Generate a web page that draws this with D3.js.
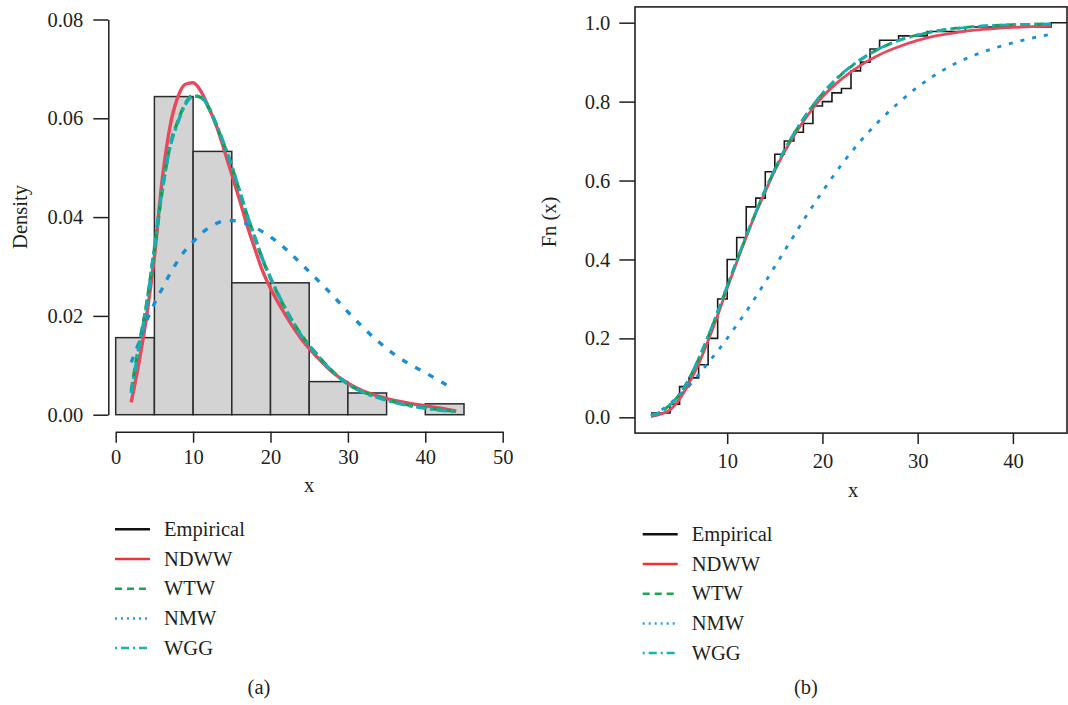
<!DOCTYPE html>
<html>
<head>
<meta charset="UTF-8">
<title>Fitted densities and CDFs</title>
<script src="https://cdnjs.cloudflare.com/ajax/libs/d3/7.8.5/d3.min.js"></script>
<style>
body{margin:0;background:#fff;}
text{font-family:"Liberation Serif","DejaVu Serif",serif;font-size:20.5px;fill:#231f20;}
.axis path,.axis line{stroke:#231f20;stroke-width:1.5;}
</style>
</head>
<body>
<div id="chart"></div>
<script>
// observed data (integer values and how often they occur), n = 90
var obsValues=[2,4,5,6,7,8,9,10,11,12,13,14,15,16,17,18,19,20,21,22,23,24,25,26,28,31,35,44];
var obsCounts=[1,2,4,2,3,6,9,9,5,7,2,6,4,3,2,2,4,1,2,1,4,2,3,2,1,1,1,1];

// histogram
var binEdges=[0,5,10,15,20,25,30,35,40,45];
var binDensity=[0.0156,0.0644,0.0533,0.0267,0.0267,0.0067,0.0044,0,0.0022];

// fitted curves
var xGrid=[2,3,4,5,6,7,8,9,10,11,12,13,14,15,16,17,18,19,20,22,24,26,28,30,32,34,36,38,40,42,44];
var xGridNMW=[2,3,4,5,6,7,8,9,10,11,12,13,14,15,16,17,18,19,20,22,24,26,28,30,32,34,36,38,40,42,43];
var pdfNDWW=[0.0025,0.0105,0.0200,0.0320,0.0475,0.0582,0.0642,0.0669,0.0672,0.0655,0.0622,0.0585,0.0537,0.0486,0.0435,0.0382,0.0335,0.0290,0.0256,0.0200,0.0153,0.0117,0.0086,0.0064,0.0048,0.0037,0.0029,0.0023,0.0018,0.0013,0.0007];
var pdfWTW=[0.0048,0.0140,0.0225,0.0335,0.0452,0.0543,0.0593,0.0630,0.0646,0.0642,0.0622,0.0586,0.0546,0.0502,0.0452,0.0402,0.0358,0.0313,0.0276,0.0212,0.0161,0.0122,0.0088,0.0062,0.0046,0.0035,0.0026,0.0019,0.0014,0.0010,0.0007];
var pdfNMW=[0.0106,0.0146,0.0190,0.0225,0.0255,0.0285,0.0311,0.0333,0.0350,0.0366,0.0378,0.0387,0.0392,0.0393,0.0391,0.0386,0.0379,0.0370,0.0360,0.0335,0.0305,0.0274,0.0242,0.0208,0.0176,0.0147,0.0122,0.0102,0.0085,0.0067,0.0058];
var pdfWGG=[0.0044,0.0136,0.0222,0.0338,0.0455,0.0540,0.0590,0.0628,0.0645,0.0643,0.0623,0.0588,0.0548,0.0503,0.0453,0.0403,0.0357,0.0314,0.0277,0.0213,0.0160,0.0121,0.0087,0.0062,0.0045,0.0034,0.0025,0.0018,0.0013,0.0009,0.0006];

var cdfNDWW=[0.002,0.008,0.019,0.046,0.086,0.135,0.194,0.258,0.327,0.393,0.457,0.517,0.572,0.625,0.672,0.713,0.750,0.783,0.812,0.857,0.892,0.919,0.939,0.955,0.967,0.975,0.981,0.985,0.988,0.990,0.992];
var cdfWTW=[0.004,0.014,0.032,0.058,0.098,0.148,0.205,0.267,0.332,0.396,0.459,0.519,0.576,0.628,0.676,0.718,0.756,0.790,0.820,0.869,0.906,0.934,0.955,0.969,0.979,0.986,0.990,0.993,0.995,0.996,0.997];
var cdfNMW=[0.005,0.017,0.035,0.056,0.080,0.108,0.138,0.168,0.200,0.234,0.268,0.305,0.343,0.382,0.421,0.460,0.499,0.536,0.572,0.640,0.700,0.752,0.797,0.837,0.870,0.897,0.918,0.935,0.949,0.961,0.971];
var cdfWGG=[0.004,0.013,0.031,0.058,0.098,0.149,0.206,0.268,0.333,0.397,0.460,0.520,0.577,0.629,0.677,0.719,0.757,0.791,0.821,0.870,0.907,0.935,0.955,0.969,0.979,0.985,0.990,0.993,0.995,0.996,0.997];

var xTicksL=[0,10,20,30,40,50];
var yTicksL=[0,0.02,0.04,0.06,0.08];
var xTicksR=[10,20,30,40];
var yTicksR=[0,0.2,0.4,0.6,0.8,1.0];
var legendNames=["Empirical","NDWW","WTW","NMW","WGG"];

var width=1068, height=705;
var svg=d3.select("#chart").append("svg").attr("width",width).attr("height",height);

// line looks
var look={
 NDWW:{color:"#e9485c",dash:null},
 WTW:{color:"#1c9e48",dash:"9,5"},
 NMW:{color:"#1a8fd6",dash:"6,9"},
 WGG:{color:"#18adb2",dash:"10,4,3,4"}
};

function zip(xs,ys){return xs.map(function(x,i){return [x,ys[i]];});}

// ---------- left panel: histogram + densities ----------
var xL=d3.scaleLinear().domain([0,50]).range([115.7,502.7]);
var yL=d3.scaleLinear().domain([0,0.08]).range([414.7,19.5]);

svg.append("g").selectAll("rect").data(binDensity).enter().append("rect")
  .attr("x",function(d,i){return xL(binEdges[i]);})
  .attr("width",function(d,i){return xL(binEdges[i+1])-xL(binEdges[i]);})
  .attr("y",function(d){return yL(d);})
  .attr("height",function(d){return yL(0)-yL(d);})
  .attr("fill","#d3d3d3").attr("stroke","#2b2b2b").attr("stroke-width",1.5);

var lineL=d3.line().x(function(d){return xL(d[0]);}).y(function(d){return yL(d[1]);}).curve(d3.curveMonotoneX);
var densities=[["NDWW",zip(xGrid,pdfNDWW)],["WTW",zip(xGrid,pdfWTW)],["NMW",zip(xGridNMW,pdfNMW)],["WGG",zip(xGrid,pdfWGG)]];
densities.forEach(function(s){
  svg.append("path").attr("d",lineL(s[1])).attr("fill","none")
    .attr("stroke",look[s[0]].color).attr("stroke-width",3.4)
    .attr("stroke-dasharray",look[s[0]].dash);
});

svg.append("g").attr("class","axis").attr("transform","translate(0,431.7)")
  .call(d3.axisBottom(xL).tickValues(xTicksL).tickSize(11).tickPadding(7).tickSizeOuter(0));
svg.append("g").attr("class","axis").attr("transform","translate(108.3,0)")
  .call(d3.axisLeft(yL).tickValues(yTicksL).tickFormat(d3.format(".2f")).tickSize(15).tickPadding(10).tickSizeOuter(0));

svg.append("text").attr("transform","translate(27,217) rotate(-90)").attr("text-anchor","middle").text("Density");
svg.append("text").attr("x",309).attr("y",492).attr("text-anchor","middle").text("x");

// ---------- right panel: ECDF + fitted CDFs ----------
var xR=d3.scaleLinear().domain([0.32,45.68]).range([635,1067]);
var yR=d3.scaleLinear().domain([-0.04,1.04]).range([433.1,6.9]);

var n=d3.sum(obsCounts), cum=0;
var ecdf=obsValues.map(function(v,i){cum+=obsCounts[i];return [v,cum/n];});
ecdf.push([45.68,1]);
svg.append("path")
  .attr("d",d3.line().x(function(d){return xR(d[0]);}).y(function(d){return yR(d[1]);}).curve(d3.curveStepAfter)(ecdf))
  .attr("fill","none").attr("stroke","#1a1a1a").attr("stroke-width",1.6);

var lineR=d3.line().x(function(d){return xR(d[0]);}).y(function(d){return yR(d[1]);}).curve(d3.curveMonotoneX);
var cdfs=[["NDWW",zip(xGrid,cdfNDWW)],["WTW",zip(xGrid,cdfWTW)],["NMW",zip(xGrid,cdfNMW)],["WGG",zip(xGrid,cdfWGG)]];
cdfs.forEach(function(s){
  svg.append("path").attr("d",lineR(s[1])).attr("fill","none")
    .attr("stroke",look[s[0]].color).attr("stroke-width",2.8)
    .attr("stroke-dasharray",s[0]=="NMW"?"4,8":look[s[0]].dash);
});

svg.append("rect").attr("x",635).attr("y",6.9).attr("width",1067-635).attr("height",433.1-6.9)
  .attr("fill","none").attr("stroke","#231f20").attr("stroke-width",1.6);

var gx=svg.append("g").attr("class","axis").attr("transform","translate(0,433.1)")
  .call(d3.axisBottom(xR).tickValues(xTicksR).tickSize(11).tickPadding(9));
gx.select(".domain").remove();
var gy=svg.append("g").attr("class","axis").attr("transform","translate(635,0)")
  .call(d3.axisLeft(yR).tickValues(yTicksR).tickFormat(d3.format(".1f")).tickSize(15.7).tickPadding(9));
gy.select(".domain").remove();

svg.append("text").attr("transform","translate(556,222) rotate(-90)").attr("text-anchor","middle").text("Fn (x)");
svg.append("text").attr("x",853).attr("y",497).attr("text-anchor","middle").text("x");

// ---------- legends ----------
var legendLook={
 Empirical:{color:"#111",dash:null},
 NDWW:{color:"#ee3338",dash:null},
 WTW:{color:"#1aa84f",dash:"7,5"},
 NMW:{color:"#2a9ee0",dash:"2,4"},
 WGG:{color:"#17b3b3",dash:"2,4,8,4"}
};
function drawLegend(x0,y0){
  var g=svg.append("g").attr("transform","translate("+x0+","+y0+")");
  var row=g.selectAll("g").data(legendNames).enter().append("g")
    .attr("transform",function(d,i){return "translate(0,"+(i*29.7)+")";});
  row.append("line").attr("x1",0).attr("x2",35).attr("y1",0).attr("y2",0)
    .attr("stroke",function(d){return legendLook[d].color;})
    .attr("stroke-width",2.5)
    .attr("stroke-dasharray",function(d){return legendLook[d].dash;});
  row.append("text").attr("x",49).attr("dy","0.33em").text(function(d){return d;});
}
drawLegend(115,529.3);
drawLegend(642.7,534.3);

svg.append("text").attr("x",259).attr("y",694).attr("text-anchor","middle").text("(a)");
svg.append("text").attr("x",806).attr("y",694).attr("text-anchor","middle").text("(b)");
</script>
</body>
</html>
